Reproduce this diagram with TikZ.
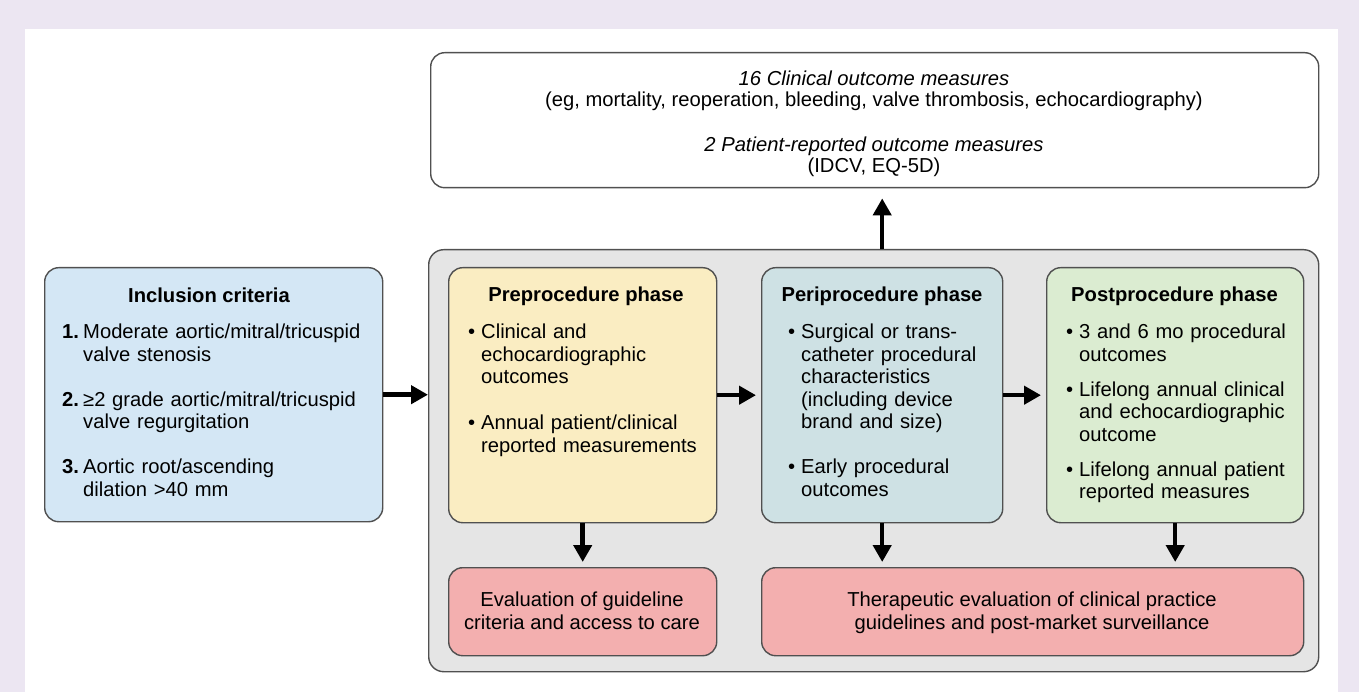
\documentclass[tikz,border=0pt]{standalone}
\usepackage{fontspec}
\setmainfont{Liberation Sans}
\usetikzlibrary{arrows.meta}
\definecolor{lav}{HTML}{ECE6F2}
\definecolor{bordc}{HTML}{505050}
\definecolor{cblue}{HTML}{D4E7F5}
\definecolor{cyellow}{HTML}{FAEDC2}
\definecolor{cteal}{HTML}{CEE1E4}
\definecolor{cgreen}{HTML}{DBECD1}
\definecolor{cred}{HTML}{F3AFAF}
\definecolor{cgray}{HTML}{E5E5E5}
\newcommand{\bul}[1]{\noindent\hangindent=13pt\hangafter=1\strut\makebox[13pt][l]{\textbullet}#1\strut\par}
\newcommand{\numit}[2]{\noindent\hangindent=21pt\hangafter=1\strut\makebox[21pt][l]{\textbf{#1}}#2\strut\par}
\begin{document}
\begin{tikzpicture}[x=1pt,y=-1pt,
  every node/.style={font=\fontsize{20.2}{22.5}\selectfont},
  box/.style={draw=bordc, line width=1.4pt, rounded corners=14pt, anchor=north west, inner sep=0pt},
  arr/.style={line width=4.5pt, -{Triangle[length=17pt,width=18pt]}},
  ttl/.style={font=\fontsize{20.2}{22.5}\selectfont\bfseries, anchor=base, inner sep=0pt},
  body/.style={anchor=north west, inner sep=0pt, align=left}
]
\path[fill=lav] (0,0) rectangle (1359,692);
\path[fill=white] (25,29) rectangle (1338,692);
\useasboundingbox (0,0) rectangle (1359,692);

% boxes
\node[box, fill=white, minimum width=888pt, minimum height=135pt] (top) at (430,52) {};
\node[box, fill=cgray, rounded corners=15pt, minimum width=890pt, minimum height=422pt] (gray) at (428,249) {};
\node[box, fill=cblue, minimum width=338pt, minimum height=254pt] (inc) at (44,267) {};
\node[box, fill=cyellow, minimum width=268pt, minimum height=255pt] (pre) at (448,267) {};
\node[box, fill=cteal, minimum width=241pt, minimum height=255pt] (peri) at (761,267) {};
\node[box, fill=cgreen, minimum width=257pt, minimum height=255pt] (post) at (1046,267) {};
\node[box, fill=cred, minimum width=268pt, minimum height=88pt] (red1) at (448,567) {};
\node[box, fill=cred, minimum width=542pt, minimum height=88pt] (red2) at (761,567) {};

% top box text
\node[anchor=north, inner sep=0pt, align=center, font=\fontsize{20.2}{20.5}\selectfont] (toptxt) at (874,70.7)
  {\textit{16 Clinical outcome measures}\\
   (eg, mortality, reoperation, bleeding, valve thrombosis, echocardiography)\\[25pt]
   \textit{2 Patient-reported outcome measures}\\
   (IDCV, EQ-5D)};

% titles
\node[ttl] (inct) at (209,303) {Inclusion criteria};
\node[ttl] (pret) at (586,302) {Preprocedure phase};
\node[ttl] (perit) at (882,302) {Periprocedure phase};
\node[ttl] (postt) at (1174.5,302) {Postprocedure phase};

% bodies
\node[body, text width=315pt] (incb) at (62,323) {%
  \numit{1.}{Moderate aortic/mitral/tricuspid\newline valve stenosis}\vspace{22.5pt}
  \numit{2.}{≥2 grade aortic/mitral/tricuspid\newline valve regurgitation}\vspace{22.5pt}
  \numit{3.}{Aortic root/ascending\newline dilation >40 mm}};
\node[body, text width=240pt] (preb) at (468,323) {%
  \bul{Clinical and\newline echocardiographic\newline outcomes}\vspace{23.5pt}
  \bul{Annual patient/clinical\newline reported measurements}};
\node[body, text width=210pt] (perib) at (788,323) {%
  \bul{Surgical or trans-\newline catheter procedural\newline characteristics\newline (including device\newline brand and size)}\vspace{22.5pt}
  \bul{Early procedural\newline outcomes}};
\node[body, text width=235pt] (postb) at (1066,323) {%
  \bul{3 and 6 mo procedural\newline outcomes}\vspace{12.5pt}
  \bul{Lifelong annual clinical\newline and echocardiographic\newline outcome}\vspace{12.5pt}
  \bul{Lifelong annual patient\newline reported measures}};

% red box texts
\node[anchor=north, inner sep=0pt, align=center] (red1t) at (582,592) {Evaluation of guideline\\criteria and access to care};
\node[anchor=north, inner sep=0pt, align=center] (red2t) at (1032,592) {Therapeutic evaluation of clinical practice\\guidelines and post-market surveillance};

% arrows
\draw[arr] (inc.east) -- (inc.east -| gray.west);
\draw[arr, shorten >=5pt] (pre.east) -- (peri.west);
\draw[arr, shorten >=5pt] (peri.east) -- (post.west);
\draw[arr, shorten >=5pt] (pre.south) -- (pre.south |- red1.north);
\draw[arr, shorten >=5pt] (peri.south) -- (peri.south |- red2.north);
\draw[arr, shorten >=5pt] (post.south) -- (post.south |- red2.north);
\draw[arr, shorten >=10pt] (peri.north |- gray.north) -- (peri.north |- top.south);
\end{tikzpicture}
\end{document}
